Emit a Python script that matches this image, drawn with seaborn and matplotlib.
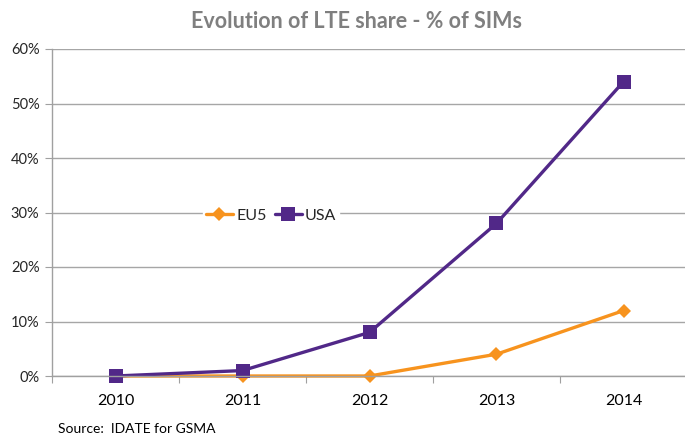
import matplotlib
matplotlib.use("Agg")
import matplotlib.pyplot as plt
import seaborn as sns
import pandas as pd
from matplotlib.ticker import FixedLocator, PercentFormatter

years = ["2010", "2011", "2012", "2013", "2014"]
eu5 = [0, 0, 0, 4, 12]
usa = [0, 1, 8, 28, 54]
title = "Evolution of LTE share - % of SIMs"
source = "Source:  IDATE for GSMA"

sns.set_theme(style="white")
plt.rcParams['font.family'] = ['Lato', 'DejaVu Sans']

df = pd.DataFrame({"pos": list(range(len(years))) * 2,
                   "value": eu5 + usa,
                   "series": ["EU5"] * len(years) + ["USA"] * len(years)})

fig = plt.figure(figsize=(6.85, 4.37), dpi=100)
ax = fig.add_axes([52/685, 1 - 376/437, 635/685, 327/437])

orange = "#F7931E"
purple = "#512888"
sns.lineplot(data=df[df.series == "EU5"], x="pos", y="value", ax=ax, color=orange,
             marker="D", markersize=7.5, markeredgewidth=0, linewidth=2.4, label="EU5",
             clip_on=False)
sns.lineplot(data=df[df.series == "USA"], x="pos", y="value", ax=ax, color=purple,
             marker="s", markersize=9.5, markeredgewidth=0, linewidth=2.4, label="USA",
             clip_on=False)

ax.set_xlim(-0.5, len(years) - 0.5)
ax.set_ylim(0, 60)
ax.set_yticks(range(0, 61, 10))
ax.yaxis.set_major_formatter(PercentFormatter(decimals=0))
ax.set_xticks(range(len(years)))
ax.set_xticklabels(years)
ax.xaxis.set_minor_locator(FixedLocator([i - 0.5 for i in range(len(years) + 1)]))
ax.tick_params(axis='x', which='major', length=0, pad=13, labelsize=11.5, colors="#000000")
ax.tick_params(axis='x', which='minor', length=5, width=0.8, color="#A0A0A0", direction='out', bottom=True)
ax.tick_params(axis='y', which='major', length=5, width=0.8, color="#A0A0A0", direction='out',
               left=True, labelsize=10.5, pad=4)
ax.set_xlabel("")
ax.set_ylabel("")
ax.grid(axis='y', color="#A6A6A6", linewidth=1)
ax.set_axisbelow(True)
for s in ["top", "right"]:
    ax.spines[s].set_visible(False)
for s in ["left", "bottom"]:
    ax.spines[s].set_color("#A0A0A0")
    ax.spines[s].set_linewidth(1)

leg = ax.legend(loc="center", bbox_to_anchor=(0.345, 0.49), ncol=2, frameon=True,
                fontsize=11.5, handlelength=1.7, handletextpad=0.2, columnspacing=0.5,
                borderpad=0.2, borderaxespad=0)
leg.get_frame().set_facecolor("white")
leg.get_frame().set_edgecolor("white")
leg.get_frame().set_alpha(1)

fig.text(0.5 + 0.02, 1 - 22/437, title, ha="center", va="center", fontsize=15.5,
         fontweight="bold", color="#7F7F7F")
fig.text(58/685, 1 - 429/437, source, ha="left", va="center", fontsize=10, color="#000000")

fig.savefig("out.png", dpi=100)
